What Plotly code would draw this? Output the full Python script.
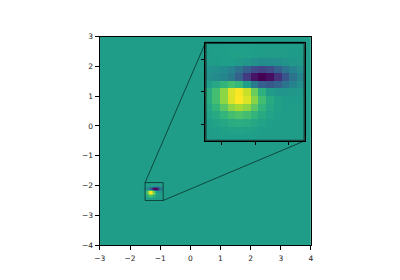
import numpy as np
import plotly.graph_objects as go

# 15x15 sample field (rows: y from -4 to 3, cols: x from -3 to 4), values read/estimated
Z = [
    [0.000, 0.000, 0.000, 0.000, 0.000, 0.000, 0.001, 0.000, 0.000, 0.000, 0.000, 0.000, 0.000, 0.000, 0.000],
    [0.000, 0.000, 0.000, 0.001, 0.002, 0.003, 0.003, 0.003, 0.002, 0.001, 0.000, 0.000, 0.000, 0.000, 0.000],
    [0.000, 0.001, 0.002, 0.006, 0.011, 0.016, 0.018, 0.016, 0.011, 0.006, 0.002, 0.001, 0.000, 0.000, 0.000],
    [0.001, 0.003, 0.010, 0.023, 0.042, 0.062, 0.070, 0.062, 0.042, 0.023, 0.010, 0.003, 0.001, 0.000, 0.000],
    [0.002, 0.010, 0.029, 0.070, 0.131, 0.190, 0.215, 0.190, 0.131, 0.070, 0.029, 0.010, 0.002, 0.001, 0.000],
    [0.006, 0.023, 0.070, 0.168, 0.313, 0.456, 0.517, 0.456, 0.313, 0.168, 0.070, 0.023, 0.006, 0.001, 0.000],
    [0.011, 0.042, 0.131, 0.313, 0.585, 0.851, 0.965, 0.851, 0.585, 0.313, 0.130, 0.042, 0.010, 0.002, 0.000],
    [0.015, 0.060, 0.187, 0.450, 0.842, 1.225, 1.386, 1.217, 0.828, 0.434, 0.171, 0.047, 0.006, -0.003, -0.003],
    [0.010, 0.051, 0.177, 0.445, 0.847, 1.230, 1.362, 1.133, 0.678, 0.245, -0.015, -0.104, -0.100, -0.068, -0.038],
    [-0.021, -0.023, 0.016, 0.135, 0.323, 0.459, 0.374, 0.022, -0.435, -0.761, -0.840, -0.719, -0.514, -0.318, -0.174],
    [-0.050, -0.097, -0.157, -0.216, -0.287, -0.435, -0.734, -1.155, -1.537, -1.694, -1.568, -1.245, -0.862, -0.527, -0.287],
    [-0.031, -0.062, -0.104, -0.153, -0.216, -0.325, -0.514, -0.761, -0.974, -1.049, -0.961, -0.758, -0.523, -0.320, -0.174],
    [-0.006, -0.009, -0.010, -0.002, 0.013, 0.016, -0.015, -0.082, -0.157, -0.202, -0.201, -0.165, -0.116, -0.071, -0.039],
    [0.000, 0.002, 0.006, 0.017, 0.033, 0.047, 0.051, 0.039, 0.019, 0.000, -0.009, -0.011, -0.009, -0.006, -0.003],
    [0.000, 0.001, 0.002, 0.006, 0.010, 0.015, 0.017, 0.015, 0.010, 0.005, 0.002, 0.000, 0.000, 0.000, 0.000],
]

main_ticks_x = [-3, -2, -1, 0, 1, 2, 3, 4]
main_ticks_y = [-4, -3, -2, -1, 0, 1, 2, 3]
inset_ticks_x = [-1.4, -1.2, -1.0]
inset_ticks_y = [-2.4, -2.2, -2.0]
zoom_box = [-1.5, -0.9, -2.5, -1.9]  # x1, x2, y1, y2

# embed the sample into a larger empty image, extent (-3, 4, -4, 3)
big = np.zeros((150, 150))
zs = np.array(Z)
big[30:30 + zs.shape[0], 30:30 + zs.shape[1]] = zs
d = 7.0 / 150
zmin, zmax = zs.min(), zs.max()

fig = go.Figure()
common = dict(z=big, x0=-3 + d / 2, dx=d, y0=-4 + d / 2, dy=d,
              colorscale="Viridis", zmin=zmin, zmax=zmax, showscale=False,
              zsmooth=False, hoverinfo="skip")
fig.add_trace(go.Heatmap(xaxis="x", yaxis="y", **common))
fig.add_trace(go.Heatmap(xaxis="x2", yaxis="y2", **common))

mx0, mx1 = 0.24, 0.78
my0, my1 = 0.11, 0.88
ix0 = mx0 + 0.5 * (mx1 - mx0)
ix1 = mx0 + 0.97 * (mx1 - mx0)
iy0 = my0 + 0.5 * (my1 - my0)
iy1 = my0 + 0.97 * (my1 - my0)

axstyle = dict(showline=True, linecolor="black", linewidth=0.8, mirror=True,
               ticks="outside", ticklen=3.5, tickwidth=0.8, tickcolor="black",
               showgrid=False, zeroline=False,
               tickfont=dict(family="DejaVu Sans", size=7.5, color="#222222"))

def minus(vals):
    return [str(v).replace("-", "\u2212") for v in vals]

fig.update_layout(
    width=400, height=280,
    margin=dict(l=0, r=0, t=0, b=0),
    paper_bgcolor="white", plot_bgcolor="white",
    xaxis=dict(domain=[mx0, mx1], range=[-3, 4], tickvals=main_ticks_x,
               ticktext=minus(main_ticks_x), anchor="y", ticklabelstandoff=2, **axstyle),
    yaxis=dict(domain=[my0, my1], range=[-4, 3], tickvals=main_ticks_y,
               ticktext=minus(main_ticks_y), anchor="x", ticklabelstandoff=1, **axstyle),
    xaxis2=dict(domain=[ix0, ix1], range=[zoom_box[0], zoom_box[1]], tickvals=inset_ticks_x,
                showticklabels=False, anchor="y2", **axstyle),
    yaxis2=dict(domain=[iy0, iy1], range=[zoom_box[2], zoom_box[3]], tickvals=inset_ticks_y,
                showticklabels=False, anchor="x2", **axstyle),
)

line_col = "rgba(0,0,0,0.55)"
# indicator rectangle on main axes
fig.add_shape(type="rect", xref="x", yref="y", x0=zoom_box[0], x1=zoom_box[1],
              y0=zoom_box[2], y1=zoom_box[3], line=dict(color=line_col, width=1))
# connectors: rect corners to inset corners (inset corners in main-axes data coords)
ins_left = -3 + 0.5 * 7
ins_right = -3 + 0.97 * 7
ins_bottom = -4 + 0.5 * 7
ins_top = -4 + 0.97 * 7
fig.add_shape(type="line", xref="x", yref="y", x0=zoom_box[0], y0=zoom_box[3],
              x1=ins_left, y1=ins_top, line=dict(color=line_col, width=1))
fig.add_shape(type="line", xref="x", yref="y", x0=zoom_box[1], y0=zoom_box[2],
              x1=ins_right, y1=ins_bottom, line=dict(color=line_col, width=1))
# inset frame
fig.add_shape(type="rect", xref="paper", yref="paper", x0=ix0, x1=ix1, y0=iy0, y1=iy1,
              line=dict(color="rgba(0,0,0,0.6)", width=2.2))

fig.write_html("out.html")
